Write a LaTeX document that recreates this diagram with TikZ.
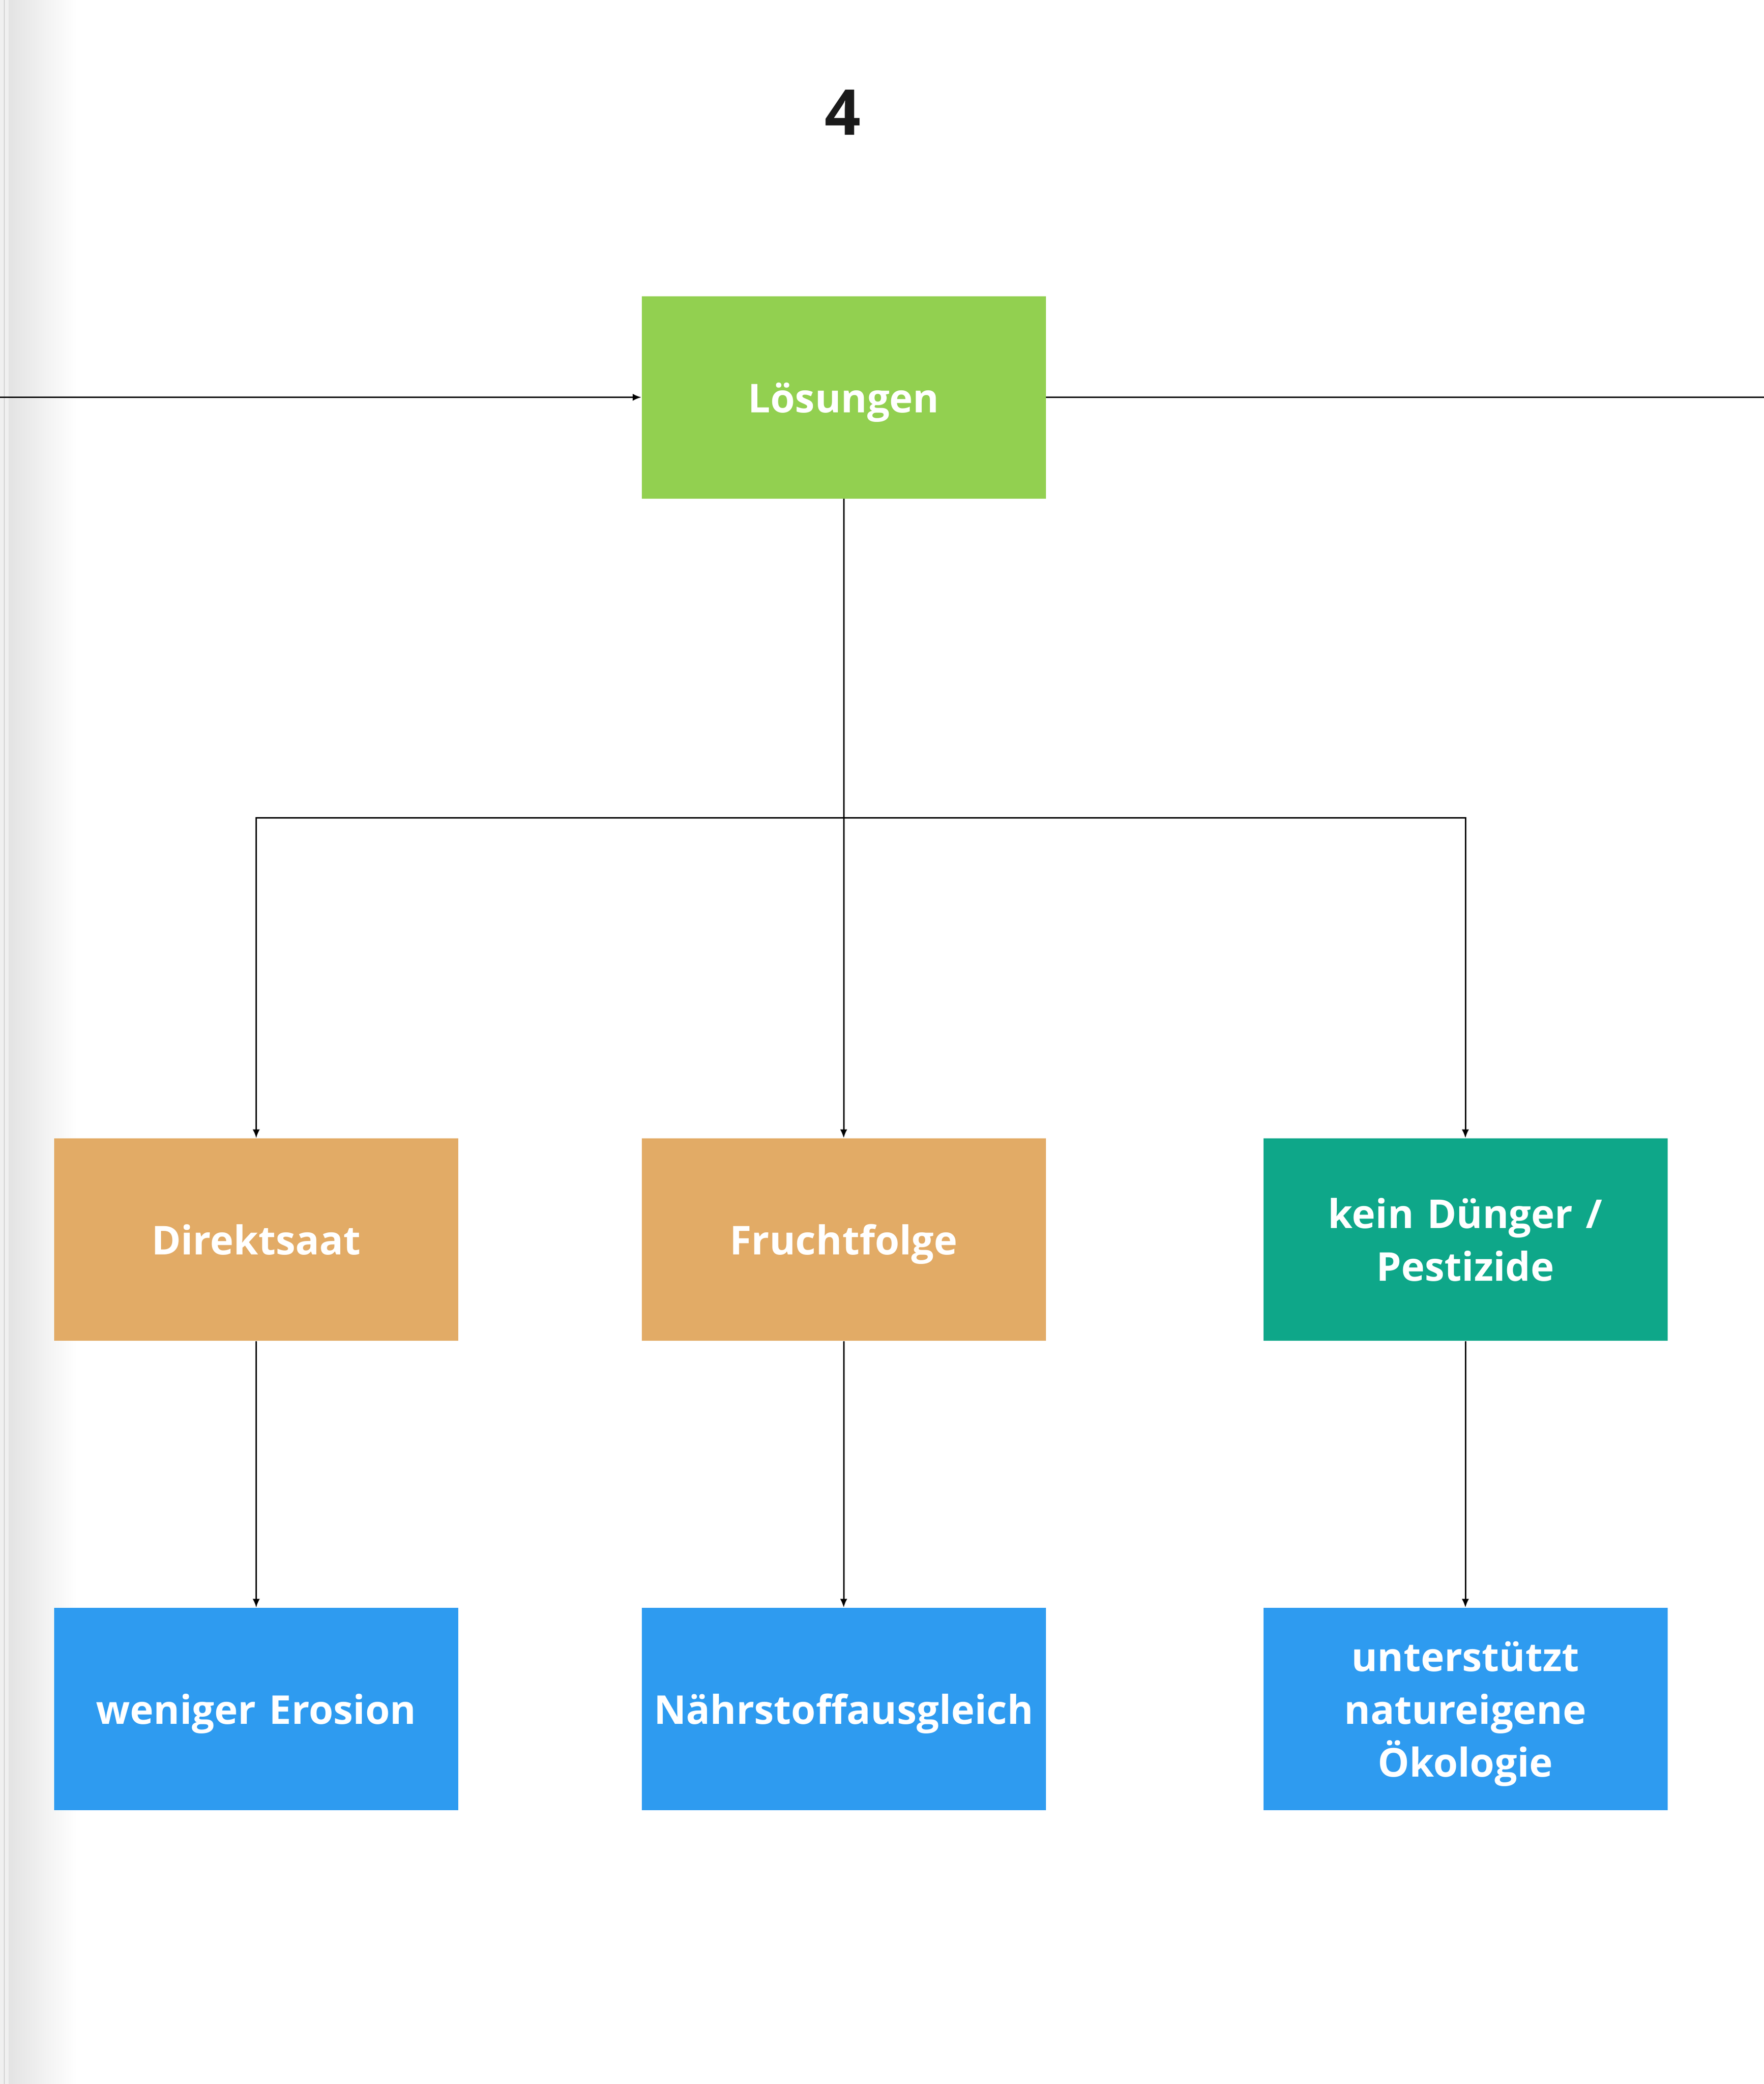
\documentclass[tikz,border=0pt]{standalone}
\usepackage{fontspec}
\setmainfont{Open Sans}
\usepackage{xcolor}
\usepackage{tikz}
\usetikzlibrary{arrows.meta, positioning}

\definecolor{loesgreen}{RGB}{146,208,80}
\definecolor{massorange}{RGB}{226,171,102}
\definecolor{massteal}{RGB}{14,167,137}
\definecolor{effblue}{RGB}{46,155,240}
\definecolor{titlegray}{RGB}{26,26,26}

% strut so that the text sits in the middle of each box
\newcommand{\capstrut}{\rule[-5.9pt]{0pt}{29.8pt}}

\tikzset{
  box/.style={rectangle, inner sep=0pt, minimum width=8.43cm, minimum height=4.22cm,
    text width=8.2cm, align=center, text=white,
    font=\fontsize{23.6}{31.3}\selectfont\bfseries,
    execute at begin node=\capstrut, execute at end node=\capstrut},
  conn/.style={line width=0.85pt, black},
  arr/.style={conn, -{Latex[length=1.8mm, width=1.5mm]}}
}

\begin{document}
\begin{tikzpicture}
    \useasboundingbox (0,0) rectangle (36.8,-43.46);
    % page shadow on the left
    \fill[gray!12] (0,0) rectangle (0.18,-43.46);
    \shade[left color=gray!22, right color=white] (0.18,0) rectangle (1.6,-43.46);
    \draw[gray!35, line width=0.6pt] (0.09,0) -- (0.09,-43.46);

    \node[anchor=base, text=titlegray, font=\fontsize{37.5}{45}\selectfont\bfseries] (title) at (17.58,-2.81) {4};

    \node[box, fill=loesgreen] (loes) at (17.6,-8.285) {L\"osungen};

    \node[box, fill=massorange] (direkt) at (5.345,-25.85) {Direktsaat};
    \node[box, fill=massorange] (frucht) at (17.6,-25.85) {Fruchtfolge};
    \node[box, fill=massteal] (duenger) at (30.57,-25.85) {kein D\"unger /\\Pestizide};

    \node[box, fill=effblue] (erosion) at (5.345,-35.64) {weniger Erosion};
    \node[box, fill=effblue] (naehr) at (17.6,-35.64) {N\"ahrstoffausgleich};
    \node[box, fill=effblue] (oeko) at (30.57,-35.64) {unterst\"utzt\\natureigene\\\"Okologie};

    \coordinate (inL) at (0,-8.285);
    \coordinate (outR) at (36.8,-8.285);
    \coordinate (bus) at (17.6,-17.05);

    \draw[arr] (inL) -- (loes.west);
    \draw[conn] (loes.east) -- (outR);
    \draw[arr] (loes.south) -- (frucht.north);
    \draw[arr] (bus) -| (direkt.north);
    \draw[arr] (bus) -| (duenger.north);

    \draw[arr] (direkt.south) -- (erosion.north);
    \draw[arr] (frucht.south) -- (naehr.north);
    \draw[arr] (duenger.south) -- (oeko.north);
  \end{tikzpicture}
\end{document}
